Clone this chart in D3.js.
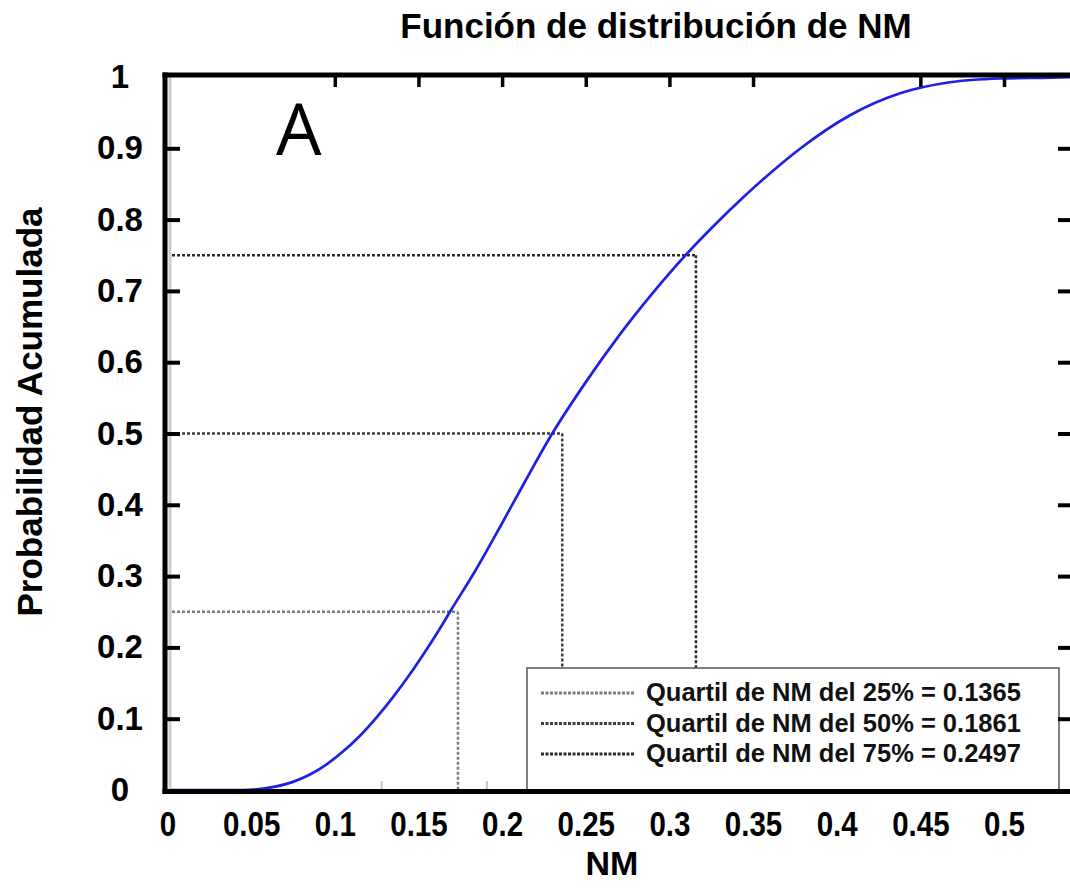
<!DOCTYPE html>
<html>
<head>
<meta charset="utf-8">
<script src="https://cdn.jsdelivr.net/npm/d3@7"></script>
<style>
  html, body { margin: 0; padding: 0; background: #fff; }
  svg { display: block; }
</style>
</head>
<body>
<svg id="chart" width="1070" height="895"></svg>
<script>
// Cumulative distribution of NM
const nmValues = [0, 0.0138, 0.0233, 0.0342, 0.0461, 0.058, 0.0661, 0.0742, 0.0818, 0.0899,
  0.098, 0.1056, 0.1137, 0.1218, 0.128, 0.1327, 0.1446, 0.1565, 0.1684, 0.1812,
  0.1969, 0.2131, 0.2288, 0.245, 0.2588, 0.2721, 0.2854, 0.2992, 0.323, 0.3468,
  0.3705, 0.3943, 0.4181, 0.43];
const probValues = [0, 0, 0, 0, 0.0029, 0.0114, 0.0217, 0.0364, 0.0539, 0.076,
  0.1025, 0.1303, 0.1627, 0.1981, 0.2269, 0.25, 0.3068, 0.3689, 0.4327, 0.4992,
  0.5703, 0.6373, 0.6958, 0.7509, 0.7932, 0.8311, 0.8661, 0.8994, 0.9464, 0.9772,
  0.9926, 0.9979, 0.9992, 1];

// Quartiles
const quartilePercents = [25, 50, 75];
const quartileProbs = [0.25, 0.5, 0.75];
const quartileNM = [0.1365, 0.1861, 0.2497];
const quartileColors = ["#7c7c7c", "#3e3e3e", "#2a2a2a"];

// Axis ticks
const yTickValues = [0, 0.1, 0.2, 0.3, 0.4, 0.5, 0.6, 0.7, 0.8, 0.9, 1];
const yInnerTicks = [0.1, 0.2, 0.3, 0.4, 0.5, 0.6, 0.7, 0.8, 0.9];
const xTickLabels = [0, 0.05, 0.1, 0.15, 0.2, 0.25, 0.3, 0.35, 0.4, 0.45, 0.5];
const xTopTicks = [0.1, 0.15, 0.2, 0.25, 0.3, 0.35, 0.45, 0.5];
const xBottomMinorTicks = [0.1, 0.15];

const svg = d3.select("#chart");
const W = 1070, H = 895;
svg.append("rect").attr("width", W).attr("height", H).attr("fill", "#fff");

// frame geometry
const frameLeft = 165, frameTop = 75, frameBottom = 791.5, frameRight = 1073;

// data scales
const x = d3.scaleLinear().domain([0, 0.43]).range([171, 1075]);
const y = d3.scaleLinear().domain([0, 1]).range([790, 77]);
// graduated scale carrying the printed NM tick labels
const xLab = d3.scaleLinear().domain([0, 0.5]).range([167.5, 1004]);

const boldFont = "'Liberation Sans', Arial, Helvetica, sans-serif";

// light inner edge along the left axis
svg.append("line")
  .attr("x1", 170).attr("x2", 170)
  .attr("y1", 77).attr("y2", 789)
  .attr("stroke", "#cdcdcd").attr("stroke-width", 3);

// quartile guide lines
const qData = quartileNM.map((v, i) => ({ nm: v, p: quartileProbs[i], pct: quartilePercents[i], color: quartileColors[i] }));
const guides = svg.append("g").attr("class", "quartiles");
qData.forEach(d => {
  guides.append("line")
    .attr("x1", 172).attr("x2", x(d.nm))
    .attr("y1", y(d.p)).attr("y2", y(d.p))
    .attr("stroke", d.color).attr("stroke-width", 2.5)
    .attr("stroke-dasharray", "3,2");
  guides.append("line")
    .attr("x1", x(d.nm)).attr("x2", x(d.nm))
    .attr("y1", y(d.p)).attr("y2", y(0))
    .attr("stroke", d.color).attr("stroke-width", 2.5)
    .attr("stroke-dasharray", "3,2");
});

// CDF curve
const cdf = nmValues.map((v, i) => [v, probValues[i]]);
svg.append("path")
  .datum(cdf)
  .attr("fill", "none")
  .attr("stroke", "#1f1fe6")
  .attr("stroke-width", 2.7)
  .attr("d", d3.line().x(d => x(d[0])).y(d => y(d[1])).curve(d3.curveMonotoneX));

// legend
const legend = svg.append("g").attr("class", "legend");
legend.append("rect")
  .attr("x", 527).attr("y", 668)
  .attr("width", 532).attr("height", 124)
  .attr("fill", "#fff").attr("stroke", "#555").attr("stroke-width", 1.5);
qData.forEach((d, i) => {
  const yy = 693 + i * 30.5;
  legend.append("line")
    .attr("x1", 541).attr("x2", 634)
    .attr("y1", yy).attr("y2", yy)
    .attr("stroke", d.color).attr("stroke-width", 3)
    .attr("stroke-dasharray", "3,1.5");
  legend.append("text")
    .attr("x", 646).attr("y", yy + 8)
    .attr("font-family", boldFont)
    .attr("font-weight", "bold")
    .attr("font-size", 25.5)
    .attr("fill", "#111")
    .text(`Quartil de NM del ${d.pct}% = ${d3.format(".4f")(d.nm)}`);
});

// frame
const frame = svg.append("g").attr("stroke", "#000").attr("stroke-width", 5);
frame.append("line").attr("x1", frameLeft - 2.5).attr("x2", frameRight).attr("y1", frameTop).attr("y2", frameTop);
frame.append("line").attr("x1", frameLeft).attr("x2", frameLeft).attr("y1", frameTop - 2.5).attr("y2", frameBottom + 2.5);
frame.append("line").attr("x1", frameLeft - 2.5).attr("x2", frameRight).attr("y1", frameBottom).attr("y2", frameBottom);
frame.append("line").attr("x1", frameRight).attr("x2", frameRight).attr("y1", frameTop).attr("y2", frameBottom);

function styleTicks(g, w) {
  g.select(".domain").remove();
  g.selectAll(".tick line").attr("stroke", "#000").attr("stroke-width", w);
  g.selectAll(".tick text").remove();
}

// inner tick marks
svg.append("g").attr("transform", `translate(${frameLeft},0)`)
  .call(d3.axisRight(y).tickValues(yInnerTicks).tickSize(15))
  .call(g => styleTicks(g, 4));
svg.append("g").attr("transform", `translate(${frameRight},0)`)
  .call(d3.axisLeft(y).tickValues(yInnerTicks).tickSize(15))
  .call(g => styleTicks(g, 4));
svg.append("g").attr("transform", `translate(0,${frameTop})`)
  .call(d3.axisBottom(xLab).tickValues(xTopTicks).tickSize(12))
  .call(g => styleTicks(g, 3.5));
svg.append("g").attr("transform", `translate(0,${frameBottom - 2.5})`)
  .call(d3.axisTop(x).tickValues(xBottomMinorTicks).tickSize(8))
  .call(g => { styleTicks(g, 2); g.selectAll(".tick line").attr("stroke", "#c4c4c4"); });

// y tick labels
svg.append("g").attr("transform", "translate(120,0)")
  .call(d3.axisLeft(y).tickValues(yTickValues).tickSize(0).tickPadding(0)
    .tickFormat(d => d === 0 || d === 1 ? d3.format("d")(d) : d3.format(".1f")(d)))
  .call(g => {
    g.select(".domain").remove();
    g.selectAll(".tick text")
      .attr("text-anchor", "middle")
      .attr("font-family", boldFont)
      .attr("font-weight", "bold")
      .attr("font-size", 33)
      .attr("fill", "#000");
  });

// x tick labels (condensed)
svg.append("g").attr("transform", "translate(0,800)")
  .call(d3.axisBottom(xLab).tickValues(xTickLabels).tickSize(0).tickPadding(10.5)
    .tickFormat(d => d === 0 ? "0" : String(+d.toFixed(2))))
  .call(g => {
    g.select(".domain").remove();
    g.selectAll(".tick text")
      .attr("font-family", boldFont)
      .attr("font-weight", "bold")
      .attr("font-size", 36)
      .attr("fill", "#000")
      .attr("transform", "scale(0.82,1)");
  });

// titles
svg.append("text")
  .attr("x", 656).attr("y", 38)
  .attr("text-anchor", "middle")
  .attr("font-family", boldFont).attr("font-weight", "bold").attr("font-size", 35)
  .text("Función de distribución de NM");

svg.append("text")
  .attr("transform", "translate(42,412) rotate(-90)")
  .attr("text-anchor", "middle")
  .attr("font-family", boldFont).attr("font-weight", "bold").attr("font-size", 35)
  .text("Probabilidad Acumulada");

svg.append("text")
  .attr("x", 612).attr("y", 875)
  .attr("text-anchor", "middle")
  .attr("font-family", boldFont).attr("font-weight", "bold").attr("font-size", 34)
  .text("NM");

// panel letter
svg.append("text")
  .attr("x", 276).attr("y", 155)
  .attr("font-family", "'Open Sans', sans-serif").attr("font-size", 72)
  .text("A");
</script>
</body>
</html>
